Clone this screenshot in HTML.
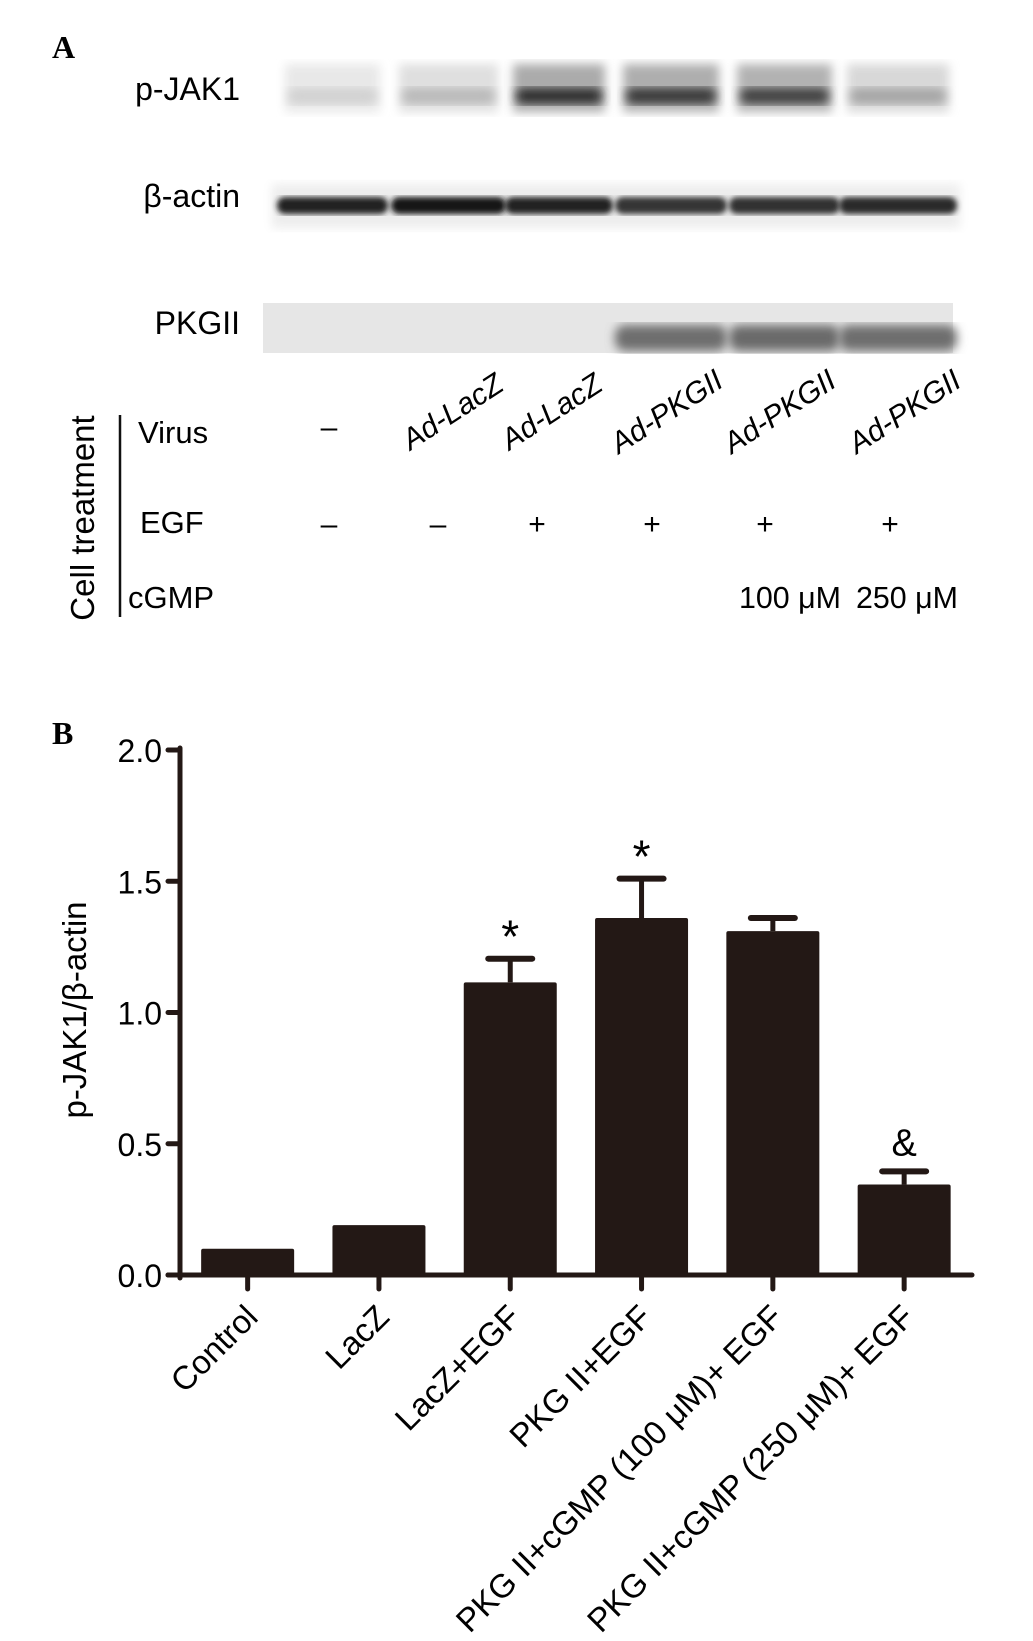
<!DOCTYPE html>
<html><head><meta charset="utf-8"><style>
html,body{margin:0;padding:0;background:#fff;}
svg{display:block;font-family:"Liberation Sans",Arial,sans-serif;}
</style></head><body>
<svg id="fig" width="1033" height="1641" viewBox="0 0 1033 1641">
<defs>
<filter id="blur3"><feGaussianBlur stdDeviation="3"/></filter>
<filter id="blur5"><feGaussianBlur stdDeviation="5"/></filter>
</defs>
<g>
<text x="52" y="58" font-family="Liberation Serif" font-weight="bold" font-size="32">A</text>
<text x="240" y="100" text-anchor="end" font-size="32">p-JAK1</text>
<text x="240" y="207" text-anchor="end" font-size="32">β-actin</text>
<text x="240" y="334" text-anchor="end" font-size="32">PKGII</text>
<g id="pjak"></g>
<g id="bact"></g>
<g id="pkg"></g>
<line x1="120" y1="415" x2="120" y2="617" stroke="#111" stroke-width="2.5"/>
<text transform="translate(94,518) rotate(-90)" text-anchor="middle" font-size="33">Cell treatment</text>
<text x="138" y="443" font-size="31">Virus</text>
<text x="140" y="533" font-size="31">EGF</text>
<text x="128" y="608" font-size="31">cGMP</text>
<g id="treat"></g>
<text x="739" y="608" font-size="31" textLength="102" lengthAdjust="spacingAndGlyphs">100 μM</text>
<text x="856" y="608" font-size="31" textLength="102" lengthAdjust="spacingAndGlyphs">250 μM</text>
</g>
<g>
<text x="52" y="744" font-family="Liberation Serif" font-weight="bold" font-size="32">B</text>
<text transform="translate(86,1010) rotate(-90)" text-anchor="middle" font-size="33">p-JAK1/β-actin</text>
<g id="chart"></g>
</g>
</svg>
<script>
const categories = ["Control","LacZ","LacZ+EGF","PKG II+EGF","PKG II+cGMP (100 μM)+ EGF","PKG II+cGMP (250 μM)+ EGF"];
const means = [0.10, 0.19, 1.115, 1.36, 1.31, 0.345];
const errors = [0.0, 0.0, 0.09, 0.15, 0.05, 0.05];
const annotations = ["", "", "*", "*", "", "&"];
const yTicks = [0.0, 0.5, 1.0, 1.5, 2.0];
const yTickLabels = ["0.0","0.5","1.0","1.5","2.0"];
const virusLabels = ["–","Ad-LacZ","Ad-LacZ","Ad-PKGII","Ad-PKGII","Ad-PKGII"];
const egfLabels = ["–","–","+","+","+","+"];
const pjakIntensity = [0.08, 0.2, 0.9, 0.85, 0.8, 0.3];
const actinIntensity = [0.9, 0.95, 0.9, 0.8, 0.82, 0.85];
const pkgIntensity = [0, 0, 0.03, 0.7, 0.72, 0.7];

const NS = "http://www.w3.org/2000/svg";
function mk(tag, attrs, parent){const e=document.createElementNS(NS,tag);for(const k in attrs)e.setAttribute(k,attrs[k]);parent.appendChild(e);return e;}

const y0 = 1275, yPerUnit = 262.5, axisX = 180, bandStart = 182, band = 131.3, barW = 93;
function yScale(v){return y0 - v*yPerUnit;}
function xCenter(i){return bandStart + band*(i+0.5);}
const chart = document.getElementById('chart');
const yAxis = mk('line',{x1:axisX,y1:yScale(2)-2,x2:axisX,y2:y0+3,stroke:'#231815','stroke-width':5,'stroke-linecap':'round'},chart);


const xAxis = mk('line',{x1:axisX-12,y1:y0,x2:972,y2:y0,stroke:'#231815','stroke-width':5,'stroke-linecap':'round'},chart);


yTicks.forEach((t,i)=>{
  const tk = mk('line',{x1:axisX-12,y1:yScale(t),x2:axisX,y2:yScale(t),stroke:'#231815','stroke-width':5,'stroke-linecap':'round'},chart);
  
  
  const lb = mk('text',{x:axisX-18,y:yScale(t)+12,'text-anchor':'end','font-size':32},chart);
  lb.textContent = yTickLabels[i];
  
  
});
categories.forEach((c,i)=>{
  const cx = xCenter(i);
  const bar = mk('rect',{x:cx-barW/2,y:yScale(means[i]),width:barW,height:y0-yScale(means[i]),fill:'#231815',rx:2},chart);
  
  
  if(errors[i]>0){
    const eg = mk('g',{},chart);
    
    
    mk('line',{x1:cx,y1:yScale(means[i]),x2:cx,y2:yScale(means[i]+errors[i]),stroke:'#231815','stroke-width':5},eg);
    mk('line',{x1:cx-22,y1:yScale(means[i]+errors[i]),x2:cx+22,y2:yScale(means[i]+errors[i]),stroke:'#231815','stroke-width':6,'stroke-linecap':'round'},eg);
  }
  if(annotations[i]){
    const a = mk('text',{x:cx,y:yScale(means[i]+errors[i])-(annotations[i]=='*'?6:16),'text-anchor':'middle','font-size':annotations[i]=='*'?46:38},chart);
    a.textContent = annotations[i];
    
    
  }
  const tk = mk('line',{x1:cx,y1:y0,x2:cx,y2:y0+14,stroke:'#231815','stroke-width':5,'stroke-linecap':'round'},chart);
  
  
  const lb = mk('text',{'text-anchor':'end','font-size':33,transform:`translate(${cx+12},${y0+44}) rotate(-45)`},chart);
  lb.textContent = c;
  
  
});

const laneX = [285,399,513,623,737,847], laneW = [95,99,92,96,95,102];
const pj = document.getElementById('pjak');
laneX.forEach((x,i)=>{
  const g = Math.round(238 - pjakIntensity[i]*75);
  mk('rect',{x:x,y:64,width:laneW[i],height:48,fill:`rgb(${g},${g},${g})`,filter:'url(#blur5)'},pj);
  const d = Math.round(225 - pjakIntensity[i]*200);
  const b = mk('rect',{x:x+3,y:88,width:laneW[i]-6,height:16,rx:7,fill:`rgb(${d},${d},${d})`,filter:'url(#blur5)'},pj);
  
  
});
const ba = document.getElementById('bact');
mk('rect',{x:272,y:184,width:688,height:44,fill:'#ededed',filter:'url(#blur5)'},ba);
laneX.forEach((x,i)=>{
  const d = Math.round(200 - actinIntensity[i]*185);
  const b = mk('rect',{x:x-8,y:197,width:laneW[i]+16,height:17,rx:8,fill:`rgb(${d},${d},${d})`,filter:'url(#blur3)'},ba);
  
  
});
const pk = document.getElementById('pkg');
mk('rect',{x:263,y:303,width:690,height:50,fill:'#e6e6e6'},pk);
laneX.forEach((x,i)=>{
  if(pkgIntensity[i]<=0.05) return;
  const d = Math.round(215 - pkgIntensity[i]*150);
  const b = mk('rect',{x:x-8,y:325,width:laneW[i]+16,height:26,rx:10,fill:`rgb(${d},${d},${d})`,filter:'url(#blur5)'},pk);
  
  
});

const laneC = [329,438,537,652,765,890];
const tr = document.getElementById('treat');
virusLabels.forEach((v,i)=>{
  let t;
  if(v==="–"){ t = mk('text',{x:laneC[i],y:437,'text-anchor':'middle','font-size':30},tr); }
  else { t = mk('text',{'font-size':30,'font-style':'italic','text-anchor':'middle',transform:`translate(${laneC[i]+20},${420}) rotate(-33)`},tr); }
  t.textContent = v;
  
  
});
egfLabels.forEach((v,i)=>{
  const t = mk('text',{x:laneC[i],y:534,'text-anchor':'middle','font-size':30},tr);
  t.textContent = v;
  
  
});
</script>
</body></html>
